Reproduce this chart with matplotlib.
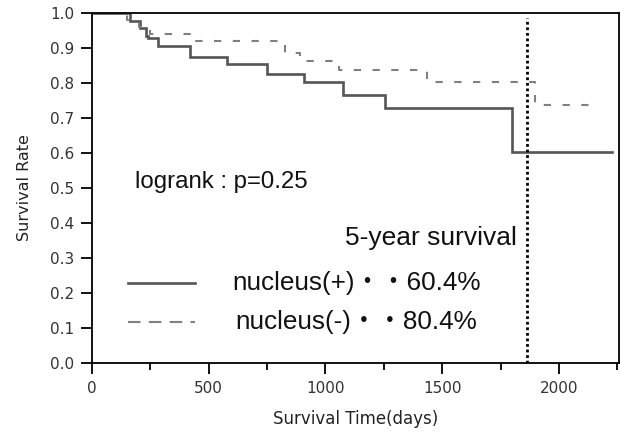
import matplotlib
matplotlib.use("Agg")
import matplotlib.pyplot as plt
from matplotlib.ticker import MultipleLocator, FormatStrFormatter

# Data
pos_times = [0, 163, 206, 230, 241, 284, 420, 577, 751, 910, 1076, 1255, 1800, 2225]
pos_surv = [1.0, 0.978, 0.957, 0.935, 0.928, 0.906, 0.875, 0.854, 0.826, 0.804, 0.766, 0.728, 0.604, 0.604]
neg_times = [0, 150, 200, 250, 420, 827, 891, 1059, 1433, 1897, 2140]
neg_surv = [1.0, 0.98, 0.959, 0.939, 0.921, 0.885, 0.864, 0.837, 0.804, 0.737, 0.737]
five_year_day = 1863
legend_labels = ["nucleus(+)\u30fb\u30fb60.4%", "nucleus(-)\u30fb\u30fb80.4%"]
pvalue_text = "logrank : p=0.25"

fig = plt.figure(figsize=(6.21, 4.36), dpi=100)
ax = fig.add_axes([92/621, 1-363/436, (619-92)/621, (363-13)/436])

ax.step(pos_times, pos_surv, where="post", color="#555555", lw=1.9, solid_joinstyle="miter")
ax.step(neg_times, neg_surv, where="post", color="#808080", lw=1.5, dashes=(3.5, 5.5))
ax.plot([five_year_day, five_year_day], [0, 0.986], color="black", lw=2.0, ls=(0, (1, 1.0)))

ax.set_xlim(0, 2257)
ax.set_ylim(0, 1.0)
ax.xaxis.set_major_locator(MultipleLocator(500))
ax.xaxis.set_minor_locator(MultipleLocator(250))
ax.yaxis.set_major_locator(MultipleLocator(0.1))
ax.yaxis.set_major_formatter(FormatStrFormatter("%.1f"))

for s in ax.spines.values():
    s.set_linewidth(1.3)
    s.set_color("black")
ax.tick_params(axis="both", which="major", length=8, width=1.3, direction="out",
               labelsize=11, labelcolor="#333333", pad=5)
ax.tick_params(axis="x", which="minor", length=5, width=1.3, direction="out")

ax.set_xlabel("Survival Time(days)", fontsize=12, color="#222222", labelpad=10)
ax.set_ylabel("Survival Rate", fontsize=11.5, color="#222222", labelpad=13)

tfam = ["Liberation Sans", "Noto Sans CJK JP", "DejaVu Sans"]
ax.text(184, 0.517, pvalue_text, fontsize=17.3, family=tfam, ha="left", va="center", color="#111111")
ax.text(1820, 0.357, "5-year survival", fontsize=19, family=tfam, ha="right", va="center", color="#111111")

# legend drawn manually
ax.plot([154, 442], [0.228, 0.228], color="#555555", lw=1.9)
ax.plot([154, 442], [0.117, 0.117], color="#808080", lw=1.5, dashes=(6, 4))
ax.text(600, 0.228, legend_labels[0], fontsize=18.8, family=tfam, ha="left", va="center", color="#111111")
ax.text(612, 0.117, legend_labels[1], fontsize=18.8, family=tfam, ha="left", va="center", color="#111111")

fig.savefig("out.png", dpi=100)
